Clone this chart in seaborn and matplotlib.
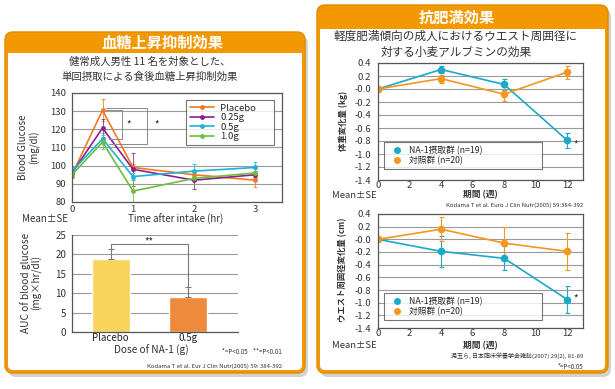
import matplotlib
matplotlib.use("Agg")
import matplotlib.pyplot as plt
import numpy as np
import pandas as pd
import seaborn as sns
from matplotlib.lines import Line2D
from matplotlib.patches import FancyBboxPatch, Rectangle

# ---- data: blood glucose after intake (left panel) ----
TIME_HR = [0, 0.5, 1, 2, 3]
GLUCOSE_GROUPS = ["Placebo", "0.25g", "0.5g", "1.0g"]
GLUCOSE_PLACEBO = [95, 130.5, 99, 95, 92]
GLUCOSE_025 = [96, 120.7, 98, 92, 95]
GLUCOSE_05 = [97, 114.8, 94, 97, 99]
GLUCOSE_10 = [95, 113, 86, 93, 96]
GLUCOSE_SE_PLACEBO = [2, 6, 2, 2, 3.5]
GLUCOSE_SE_025 = [2, 5, 9, 5, 2]
GLUCOSE_SE_05 = [2, 3, 2, 4, 3]
GLUCOSE_SE_10 = [2, 4, 6, 3, 2]

AUC_DOSES = ["Placebo", "0.5g"]
AUC_VALUES = [18.7, 8.9]
AUC_SE = [2.8, 2.6]

# ---- data: body weight / waist change (right panel) ----
WEEKS = [0, 4, 8, 12]
TRIAL_GROUPS = ["NA-1摂取群 (n=19)", "対照群 (n=20)"]
WEIGHT_NA1 = [0.0, 0.30, 0.07, -0.79]
WEIGHT_CTRL = [0.0, 0.16, -0.08, 0.26]
WEIGHT_SE_NA1 = [0.0, 0.05, 0.08, 0.11]
WEIGHT_SE_CTRL = [0.0, 0.06, 0.11, 0.10]
WAIST_NA1 = [0.0, -0.19, -0.30, -0.95]
WAIST_CTRL = [0.0, 0.16, -0.06, -0.19]
WAIST_SE_NA1 = [0.0, 0.24, 0.19, 0.22]
WAIST_SE_CTRL = [0.0, 0.19, 0.25, 0.29]

GLUCOSE_COLORS = ["#F07A22", "#8E1F8E", "#1DB3D6", "#6DBE3C"]
TRIAL_COLORS = ["#1AA9C9", "#F5961E"]
AUC_COLORS = ["#F9D35C", "#EF8A3C"]
ORANGE = "#F39800"
GRID = "#9a9a9a"
SPINE = "#555555"

W, H = 615, 389

sns.set_style("white")
plt.rcParams["font.family"] = ["Noto Sans CJK JP", "DejaVu Sans"]
plt.rcParams["axes.unicode_minus"] = False

fig = plt.figure(figsize=(W / 100, H / 100), dpi=100)
bg = fig.add_axes([0, 0, 1, 1])
bg.set_xlim(0, W)
bg.set_ylim(H, 0)
bg.axis("off")


def px_axes(x0, y0, x1, y1):
    return fig.add_axes([x0 / W, 1 - y1 / H, (x1 - x0) / W, (y1 - y0) / H])


def draw_panel(x0, y0, x1, y1, head_bottom, title, title_x):
    bg.add_patch(FancyBboxPatch((x0 + 3, y0 + 4), x1 - x0, y1 - y0,
                                boxstyle="round,pad=0,rounding_size=8",
                                fc="#b5b5b5", ec="none", alpha=0.6))
    bg.add_patch(FancyBboxPatch((x0, y0), x1 - x0, y1 - y0,
                                boxstyle="round,pad=0,rounding_size=8",
                                fc=ORANGE, ec="#E08A00", lw=1))
    bg.add_patch(FancyBboxPatch((x0 + 3, head_bottom), x1 - x0 - 6, y1 - head_bottom - 3,
                                boxstyle="round,pad=0,rounding_size=5",
                                fc="white", ec="none"))
    bg.add_patch(Rectangle((x0 + 3, head_bottom), x1 - x0 - 6, 10, fc="white", ec="none"))
    bg.text(title_x, (y0 + head_bottom) / 2 + 0.5, title, color="white", fontsize=11,
            fontweight="bold", ha="center", va="center")


draw_panel(5, 32, 305, 373, 53, "血糖上昇抑制効果", 162)
draw_panel(317, 5, 608, 373, 29, "抗肥満効果", 457)


def style_frame(ax, sides=("left", "bottom", "top", "right")):
    for name, spine in ax.spines.items():
        spine.set_visible(name in sides)
        spine.set_color(SPINE)
        spine.set_linewidth(0.9)
    ax.grid(axis="y", color=GRID, linewidth=0.8)
    ax.grid(axis="x", visible=False)
    ax.set_xlabel("")
    ax.set_ylabel("")


def boxed_legend(ax, handles, labels, anchor, size, **kw):
    leg = ax.legend(handles, labels, loc="upper left", bbox_to_anchor=anchor,
                    mode="expand", borderaxespad=0, fontsize=size, frameon=True,
                    fancybox=False, **kw)
    leg.get_frame().set_edgecolor(SPINE)
    leg.get_frame().set_linewidth(0.8)
    return leg


# ---- left top: blood glucose curves ----
ax1 = px_axes(72, 93, 282, 202)
glucose_df = pd.DataFrame({
    "time": np.tile(TIME_HR, len(GLUCOSE_GROUPS)),
    "glucose": GLUCOSE_PLACEBO + GLUCOSE_025 + GLUCOSE_05 + GLUCOSE_10,
    "group": np.repeat(GLUCOSE_GROUPS, len(TIME_HR)),
})
glucose_se = [GLUCOSE_SE_PLACEBO, GLUCOSE_SE_025, GLUCOSE_SE_05, GLUCOSE_SE_10]
glucose_vals = [GLUCOSE_PLACEBO, GLUCOSE_025, GLUCOSE_05, GLUCOSE_10]
for vals, se, color in zip(glucose_vals, glucose_se, GLUCOSE_COLORS):
    ax1.errorbar(TIME_HR, vals, yerr=se, fmt="none", ecolor=color, elinewidth=0.7,
                 capsize=1.5, capthick=0.7, alpha=0.8)
sns.lineplot(data=glucose_df, x="time", y="glucose", hue="group", hue_order=GLUCOSE_GROUPS,
             palette=GLUCOSE_COLORS, marker="o", markersize=3.5, markeredgewidth=0,
             linewidth=1.2, legend=False, ax=ax1)
ax1.set_xlim(0, 3.44)
ax1.set_ylim(80, 140)
ax1.set_yticks(range(80, 141, 10))
ax1.set_xticks([0, 1, 2, 3])
style_frame(ax1)
ax1.tick_params(axis="y", length=0, labelsize=6.8, pad=4, labelcolor="#333333")
ax1.tick_params(axis="x", length=2, labelsize=6.8, pad=0, color=SPINE, labelcolor="#333333")

bracket_kw = dict(color="#8a8a8a", linewidth=0.7)
ax1.plot([0.55, 0.82, 0.82, 0.6], [130.8, 130.8, 114.5, 114.5], **bracket_kw)
ax1.plot([0.55, 1.23, 1.23, 0.6], [131.5, 131.5, 112, 112], **bracket_kw)
ax1.text(0.92, 122.5, "*", fontsize=7, ha="center", va="center")
ax1.text(1.38, 122.5, "*", fontsize=7, ha="center", va="center")

glucose_handles = [Line2D([], [], color=c, marker="o", markersize=3.5, markeredgewidth=0,
                          linewidth=1.2) for c in GLUCOSE_COLORS]
boxed_legend(ax1, glucose_handles, GLUCOSE_GROUPS, (0.543, 0, 0.419, 0.936), 6.8,
             handlelength=2.6, handletextpad=0.6, labelspacing=0.05, borderpad=0.4)

# ---- left bottom: AUC bars ----
ax2 = px_axes(72, 235, 238, 332)
auc_df = pd.DataFrame({"dose": AUC_DOSES, "auc": AUC_VALUES})
sns.barplot(data=auc_df, x="dose", y="auc", hue="dose", palette=AUC_COLORS, width=0.49,
            saturation=1, legend=False, ax=ax2)
ax2.errorbar([0, 1], AUC_VALUES, yerr=[[0, 0], AUC_SE], fmt="none", ecolor="#7a7a7a",
             elinewidth=0.8, capsize=2, capthick=0.8)
ax2.set_xlim(-0.47, 1.65)
ax2.set_ylim(0, 25)
ax2.set_yticks(range(0, 26, 5))
ax2.set_axisbelow(True)
style_frame(ax2, sides=("left", "bottom"))
ax2.set_xticks([-0.5, 0.5, 1.5], minor=True)
ax2.tick_params(axis="x", which="major", length=0, labelsize=7, pad=1, labelcolor="#222222")
ax2.tick_params(axis="x", which="minor", length=3, direction="in", color=SPINE)
ax2.tick_params(axis="y", length=0, labelsize=7, pad=4, labelcolor="#333333")
top = AUC_VALUES[0] + AUC_SE[0]
ax2.plot([0, 0, 1, 1], [top, 22.6, 22.6, AUC_VALUES[1] + AUC_SE[1]], color="#7a7a7a",
         linewidth=0.8)
ax2.text(0.5, 23.2, "**", fontsize=7, ha="center", va="center")


# ---- right: weight and waist change ----
def trial_plot(ax, na1, ctrl, se_na1, se_ctrl):
    df = pd.DataFrame({
        "week": WEEKS * 2,
        "change": na1 + ctrl,
        "group": np.repeat(TRIAL_GROUPS, len(WEEKS)),
    })
    for vals, se, color in zip([na1, ctrl], [se_na1, se_ctrl], TRIAL_COLORS):
        ax.errorbar(WEEKS, vals, yerr=se, fmt="none", ecolor=color, elinewidth=0.8,
                    capsize=1.8, capthick=0.8)
    sns.lineplot(data=df, x="week", y="change", hue="group", hue_order=TRIAL_GROUPS,
                 palette=TRIAL_COLORS, marker="o", markersize=5.5, markeredgewidth=0,
                 linewidth=1.2, legend=False, ax=ax)
    ax.set_xlim(0, 13)
    ax.set_ylim(-1.4, 0.4)
    ax.set_xticks(range(0, 13, 2))
    ticks = np.round(np.arange(-1.4, 0.41, 0.2), 1)
    ax.set_yticks(ticks)
    ax.set_yticklabels([f"{v:.1f}" for v in ticks])
    style_frame(ax)
    ax.tick_params(axis="y", length=3, color=GRID, labelsize=6.8, pad=2, labelcolor="#333333")
    ax.tick_params(axis="x", length=2, color=SPINE, labelsize=6.8, pad=-1, labelcolor="#333333")
    handles = [Line2D([], [], color=c, marker="o", markersize=5, markeredgewidth=0,
                      linestyle="none") for c in TRIAL_COLORS]
    return handles


ax3 = px_axes(378, 63, 583, 180)
h3 = trial_plot(ax3, WEIGHT_NA1, WEIGHT_CTRL, WEIGHT_SE_NA1, WEIGHT_SE_CTRL)
ax3.text(12.55, -0.86, "*", fontsize=7, ha="center", va="center")
boxed_legend(ax3, h3, TRIAL_GROUPS, (0.029, 0, 0.771, 0.325), 6.3,
             handletextpad=0.4, labelspacing=0.1, borderpad=0.45)

ax4 = px_axes(378, 214, 583, 328)
h4 = trial_plot(ax4, WAIST_NA1, WAIST_CTRL, WAIST_SE_NA1, WAIST_SE_CTRL)
ax4.text(12.55, -0.94, "*", fontsize=7, ha="center", va="center")
boxed_legend(ax4, h4, TRIAL_GROUPS, (0.029, 0, 0.771, 0.307), 6.3,
             handletextpad=0.4, labelspacing=0.1, borderpad=0.45)

# ---- free text (pixel coordinates on the background axes) ----
txt = dict(color="#333333", ha="center", va="center")
bg.text(150, 62, "健常成人男性 11 名を対象とした、", fontsize=7.5, **txt)
bg.text(150, 77, "単回摂取による食後血糖上昇抑制効果", fontsize=7.5, **txt)
bg.text(29, 147, "Blood Glucose\n(mg/dl)", fontsize=7, rotation=90, linespacing=1.1, **txt)
bg.text(22, 219, "Mean±SE", fontsize=7, color="#333333", ha="left", va="center")
bg.text(176, 219, "Time after intake (hr)", fontsize=7, **txt)
bg.text(31, 283, "AUC of blood glucose\n(mg×hr/dl)", fontsize=7.3, rotation=90,
        linespacing=1.0, **txt)
bg.text(151, 350, "Dose of NA-1 (g)", fontsize=7.3, **txt)
bg.text(282, 352, "*=P<0.05    **=P<0.01", fontsize=4.5, color="#333333", ha="right",
        va="center")
bg.text(282, 366, "Kodama T et al. Eur J Clin Nutr(2005) 59: 384-392", fontsize=4.3,
        color="#333333", ha="right", va="center")

bg.text(456, 36, "軽度肥満傾向の成人におけるウエスト周囲径に", fontsize=8.4, **txt)
bg.text(456, 52, "対する小麦アルブミンの効果", fontsize=8.4, **txt)
bg.text(343, 121, "体重変化量 (kg)", fontsize=6, rotation=90, fontweight="bold", **txt)
bg.text(332, 195, "Mean±SE", fontsize=6.8, color="#333333", ha="left", va="center")
bg.text(480, 195, "期間 (週)", fontsize=6.3, fontweight="bold", **txt)
bg.text(583, 205, "Kodama T et al. Euro J Clin Nutr(2005) 59:384-392", fontsize=4.3,
        color="#333333", ha="right", va="center")
bg.text(343, 270, "ウエスト周囲径変化量 (cm)", fontsize=6, rotation=90, fontweight="bold", **txt)
bg.text(332, 346, "Mean±SE", fontsize=6.8, color="#333333", ha="left", va="center")
bg.text(480, 346, "期間 (週)", fontsize=6.3, fontweight="bold", **txt)
bg.text(583, 356, "児玉ら, 日本臨床栄養学会雑誌(2007) 29(2), 81-89", fontsize=4.3,
        color="#333333", ha="right", va="center")
bg.text(583, 367, "*=P<0.05", fontsize=4.5, color="#333333", ha="right", va="center")

fig.savefig("out.png", dpi=100)
